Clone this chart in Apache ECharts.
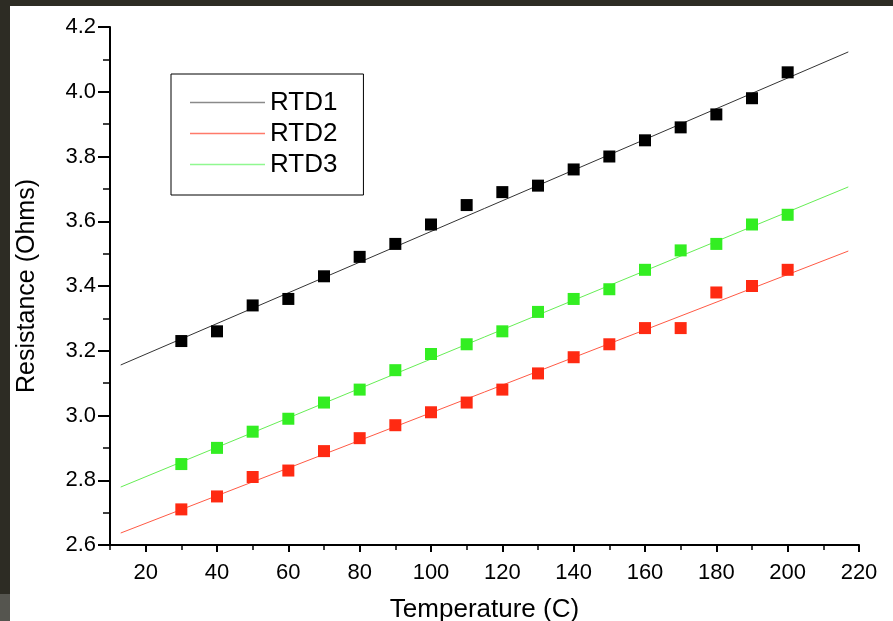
<!DOCTYPE html>
<html>
<head>
<meta charset="utf-8">
<script src="https://cdn.jsdelivr.net/npm/echarts@6/dist/echarts.min.js"></script>
<style>
html,body{margin:0;padding:0;background:#fff;}
#chart{width:893px;height:621px;}
</style>
</head>
<body>
<div id="chart"></div>
<script>
// Data
var temperatures = [30, 40, 50, 60, 70, 80, 90, 100, 110, 120, 130, 140, 150, 160, 170, 180, 190, 200];
var rtd1 = [3.23, 3.26, 3.34, 3.36, 3.43, 3.49, 3.53, 3.59, 3.65, 3.69, 3.71, 3.76, 3.80, 3.85, 3.89, 3.93, 3.98, 4.06];
var rtd2 = [2.71, 2.75, 2.81, 2.83, 2.89, 2.93, 2.97, 3.01, 3.04, 3.08, 3.13, 3.18, 3.22, 3.27, 3.27, 3.38, 3.40, 3.45];
var rtd3 = [2.85, 2.90, 2.95, 2.99, 3.04, 3.08, 3.14, 3.19, 3.22, 3.26, 3.32, 3.36, 3.39, 3.45, 3.51, 3.53, 3.59, 3.62];
// Fit line end points
var fitX = [13, 217];
var fit1 = [3.156, 4.123];
var fit2 = [2.637, 3.508];
var fit3 = [2.779, 3.706];
var seriesNames = ['RTD1', 'RTD2', 'RTD3'];
var xMajorTicks = [20, 40, 60, 80, 100, 120, 140, 160, 180, 200, 220];

function pairs(xs, ys) { return xs.map(function (x, i) { return [x, ys[i]]; }); }

var chart = echarts.init(document.getElementById('chart'), null, { renderer: 'canvas' });
var font = '"Liberation Sans", Arial, sans-serif';
var legendColors = ['#8a8a8a', '#ff7a6a', '#90f890'];

var option = {
  backgroundColor: '#ffffff',
  animation: false,
  grid: { left: 110, top: 27, right: 34, bottom: 76, containLabel: false, outerBoundsMode: 'none' },
  graphic: [
    { type: 'rect', shape: { x: 0, y: 0, width: 893, height: 6 }, style: { fill: '#2d2c24' }, silent: true },
    { type: 'rect', shape: { x: 0, y: 0, width: 10, height: 594 }, style: { fill: '#2d2c24' }, silent: true },
    { type: 'rect', shape: { x: 0, y: 594, width: 10, height: 27 }, style: { fill: '#55554f' }, silent: true }
  ],
  legend: {
    data: seriesNames.map(function (n, i) { return { name: n, icon: 'rect', itemStyle: { color: legendColors[i] } }; }),
    orient: 'vertical',
    left: 171,
    top: 74,
    itemWidth: 75,
    itemHeight: 1.5,
    itemGap: 0,
    padding: [13, 26, 15, 19],
    borderColor: '#000',
    borderWidth: 1,
    selectedMode: false,
    textStyle: { fontFamily: font, fontSize: 26, color: '#000', lineHeight: 31 }
  },
  xAxis: [
    {
      type: 'value', min: 10, max: 220, interval: 10, position: 'bottom',
      axisLine: { show: true, onZero: false, lineStyle: { color: '#000', width: 2 } },
      axisTick: { show: true, length: 5, lineStyle: { color: '#000', width: 1.5 } },
      axisLabel: { show: false },
      splitLine: { show: false },
      name: 'Temperature (C)', nameLocation: 'middle', nameGap: 52,
      nameTextStyle: { fontFamily: font, fontSize: 26, color: '#000' }
    },
    {
      type: 'value', min: 10, max: 220, interval: 10, position: 'bottom',
      axisLine: { show: false, onZero: false },
      axisTick: { show: true, length: 7, customValues: xMajorTicks, lineStyle: { color: '#000', width: 2 } },
      axisLabel: { show: true, customValues: xMajorTicks, margin: 17, fontFamily: font, fontSize: 22, color: '#000' },
      splitLine: { show: false }
    }
  ],
  yAxis: {
    type: 'value', min: 2.6, max: 4.2, interval: 0.2,
    axisLine: { show: true, onZero: false, lineStyle: { color: '#000', width: 2 } },
    axisTick: { show: true, length: 12, lineStyle: { color: '#000', width: 2 } },
    minorTick: { show: true, splitNumber: 2, length: 7, lineStyle: { color: '#000', width: 1.5 } },
    axisLabel: {
      margin: 14, fontFamily: font, fontSize: 22, color: '#000',
      formatter: function (v) { return v.toFixed(1); }
    },
    splitLine: { show: false },
    name: 'Resistance (Ohms)', nameLocation: 'middle', nameGap: 70, nameRotate: 90,
    nameTextStyle: { fontFamily: font, fontSize: 25, color: '#000' }
  },
  series: [
    { name: 'RTD1', type: 'line', xAxisIndex: 0, data: pairs(fitX, fit1), symbol: 'none',
      lineStyle: { color: '#333333', width: 1 }, itemStyle: { color: legendColors[0] }, z: 2 },
    { name: 'RTD2', type: 'line', xAxisIndex: 0, data: pairs(fitX, fit2), symbol: 'none',
      lineStyle: { color: '#ff5a45', width: 1 }, itemStyle: { color: legendColors[1] }, z: 2 },
    { name: 'RTD3', type: 'line', xAxisIndex: 0, data: pairs(fitX, fit3), symbol: 'none',
      lineStyle: { color: '#66ee55', width: 1 }, itemStyle: { color: legendColors[2] }, z: 2 },
    { name: 'RTD1 data', type: 'scatter', xAxisIndex: 0, data: pairs(temperatures, rtd1), symbol: 'rect', symbolSize: 12,
      itemStyle: { color: '#000000', opacity: 1 }, z: 3 },
    { name: 'RTD2 data', type: 'scatter', xAxisIndex: 0, data: pairs(temperatures, rtd2), symbol: 'rect', symbolSize: 12,
      itemStyle: { color: '#ff2a12', opacity: 1 }, z: 3 },
    { name: 'RTD3 data', type: 'scatter', xAxisIndex: 0, data: pairs(temperatures, rtd3), symbol: 'rect', symbolSize: 12,
      itemStyle: { color: '#33ee22', opacity: 1 }, z: 3 }
  ]
};
chart.setOption(option);
</script>
</body>
</html>
